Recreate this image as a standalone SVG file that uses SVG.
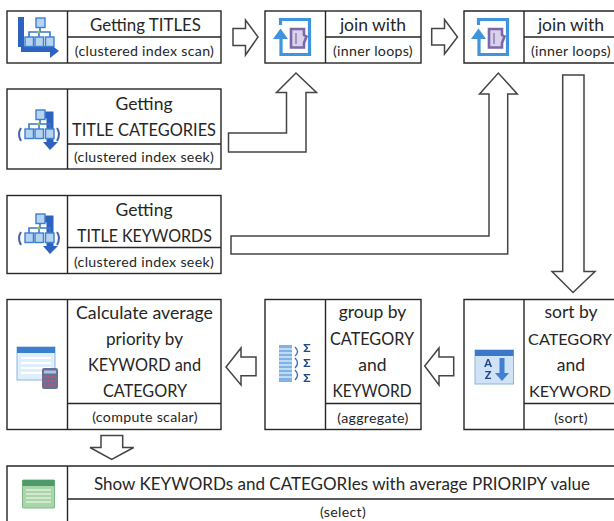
<svg xmlns="http://www.w3.org/2000/svg" width="614" height="521" viewBox="0 0 614 521">
<style>
text{font-family:"Lato","Carlito","Liberation Sans",sans-serif;fill:#262626;text-anchor:middle}
.t{font-size:17.5px}
.c{font-size:16.2px}
.s{font-size:14.2px;letter-spacing:.3px}
.box{fill:#fff;stroke:#262626;stroke-width:1.4}
.div{stroke:#262626;stroke-width:1.4;fill:none}
.arr{fill:#fff;stroke:#444;stroke-width:1.5;stroke-linejoin:miter}
.ib{fill:#b4d4f2;stroke:#3f7fcf;stroke-width:1.4}
.g{font-size:11px;font-weight:900;fill:#234a86}
.sg{font-size:12px;font-weight:900;fill:#234a86}
</style>
<defs>
<filter id="soft" x="-10%" y="-10%" width="120%" height="120%"><feGaussianBlur stdDeviation="0.45"/></filter>
<g id="tree">
<path d="M40 27V32M29 37V32H50V37M39 32V37" fill="none" stroke="#3a78c8" stroke-width="1.600"/>
<rect class="ib" x="36" y="18" width="9" height="9.500"/>
<rect class="ib" x="25" y="37" width="8.500" height="9.500"/>
<rect class="ib" x="35" y="37" width="8.500" height="9.500"/>
<rect class="ib" x="45.500" y="37" width="8.500" height="9.500"/>
<circle cx="38.500" cy="32" r="1.500" fill="#8cc63f"/>
</g>
<g id="seek">
<path d="M44 115H50V143" fill="none" stroke="#2f62c0" stroke-width="7"/>
<path d="M43 142H58L50 150Z" fill="#2f62c0"/>
<use href="#tree" y="92"/>
<path d="M21 128Q17 134 21 141M57 128Q61 134 57 141" fill="none" stroke="#4a5fa8" stroke-width="2"/>
</g>
<g id="join">
<path d="M280.500 25V19.500H309.500V54.500H281V38" fill="none" stroke="#3f94dc" stroke-width="3.200"/>
<path d="M273 39L280.500 28.500L288 39Z" fill="#3f94dc"/>
<path d="M291 29H304V35L306.500 36.500L304 43V47.500H291Z" fill="#d9d2ea" stroke="#7b68a8" stroke-width="2.600"/>
<path d="M296 33V44" stroke="#8d7cb8" stroke-width="1.500"/>
</g>
</defs>

<g id="connectors">
<path class="arr" d="M233 28.500H245.500V20L258 37L245.500 55V45.500H233Z"/>
<path class="arr" d="M431.700 28.500H444.500V19.500L457.500 37L444.500 54V45H431.700Z"/>
<path class="arr" d="M228.500 133H286.500V92.500H276.500L296 73L316.500 92.500H306V152H228.500Z"/>
<path class="arr" d="M231 236H489V94H479.500L498.300 73L517.300 94H507.700V254H231Z"/>
<path class="arr" d="M562.700 75H584V271.500H595L573 292.500L552 271.500H562.700Z"/>
<path class="arr" d="M453.700 357H439V348L424.700 366L439 385V375.700H453.700Z"/>
<path class="arr" d="M256 357H241V348L226 367L241 385V375.700H256Z"/>
<path class="arr" d="M101 435.500H122.700V447.500H133.700L111.700 459.300L90 447.500H101Z"/>
</g>

<g id="n-titles">
<rect class="box" x="7" y="11" width="214" height="52"/>
<path class="div" d="M67.500 11V63M67.500 37H221"/>
<g filter="url(#soft)">
<path d="M21 17V47M21 49H52" fill="none" stroke="#2f62c0" stroke-width="6"/>
<path d="M50 44L59 51L50 58Z" fill="#2f62c0"/>
<use href="#tree"/>
</g>
<text class="t" x="145.500" y="31" textLength="111" lengthAdjust="spacingAndGlyphs">Getting TITLES</text>
<text class="s" x="144.500" y="55.500">(clustered index scan)</text>
</g>

<g id="n-join1">
<rect class="box" x="265" y="11" width="156" height="52"/>
<path class="div" d="M325.500 11V63M325.500 37H421"/>
<use href="#join" filter="url(#soft)"/>
<text class="t" x="373" y="31">join with</text>
<text class="s" x="373" y="55.500">(inner loops)</text>
</g>

<g id="n-join2">
<path class="box" d="M615 11H464V63H615"/>
<path class="div" d="M524 11V63M524 37H615"/>
<use href="#join" x="198" filter="url(#soft)"/>
<text class="t" x="571" y="31">join with</text>
<text class="s" x="571" y="55.500">(inner loops)</text>
</g>

<g id="n-categories">
<rect class="box" x="7" y="89" width="214" height="80"/>
<path class="div" d="M67.500 89V169M67.500 144H221"/>
<use href="#seek" filter="url(#soft)"/>
<text class="t" x="144" y="110">Getting</text>
<text class="t" x="144" y="136" textLength="144" lengthAdjust="spacingAndGlyphs">TITLE CATEGORIES</text>
<text class="s" x="144" y="162">(clustered index seek)</text>
</g>

<g id="n-keywords">
<rect class="box" x="7" y="195.500" width="214" height="78"/>
<path class="div" d="M67.500 195.500V273.500M67.500 247.500H221"/>
<use href="#seek" y="104" filter="url(#soft)"/>
<text class="t" x="144" y="215.500">Getting</text>
<text class="t" x="144.500" y="241.500" textLength="135" lengthAdjust="spacingAndGlyphs">TITLE KEYWORDS</text>
<text class="s" x="144" y="267">(clustered index seek)</text>
</g>

<g id="n-compute">
<rect class="box" x="7" y="299.500" width="214" height="130"/>
<path class="div" d="M67.500 299.500V429.500M67.500 403.500H221"/>
<g filter="url(#soft)">
<rect x="17" y="347" width="38" height="33" fill="#dfeefb" stroke="#8fb4dc"/>
<rect x="17" y="347" width="38" height="6" fill="#3a80cf"/>
<path d="M21 358H51M21 363H51M21 368H51M21 373H51" stroke="#fff" stroke-width="2"/>
<rect x="42" y="368" width="16" height="21" rx="2" fill="#6b6f95"/>
<path d="M44 372H56" stroke="#a9c4e6" stroke-width="3"/>
<path d="M44 377H56M44 381H56M44 385H56" stroke="#c9506a" stroke-width="2" stroke-dasharray="2 1.500"/>
</g>
<text class="t" x="144.500" y="319" textLength="137" lengthAdjust="spacingAndGlyphs">Calculate average</text>
<text class="t" x="144.500" y="345" textLength="77" lengthAdjust="spacingAndGlyphs">priority by</text>
<text class="t" x="144.500" y="371" textLength="113" lengthAdjust="spacingAndGlyphs">KEYWORD and</text>
<text class="t" x="145" y="397" textLength="84" lengthAdjust="spacingAndGlyphs">CATEGORY</text>
<text class="s" x="145" y="422">(compute scalar)</text>
</g>

<g id="n-aggregate">
<rect class="box" x="265" y="299.500" width="156" height="130"/>
<path class="div" d="M325.500 299.500V429.500M325.500 403.500H421"/>
<g filter="url(#soft)">
<rect x="279" y="345" width="13" height="37" fill="#7fb2e6"/>
<path d="M279 349H292M279 353H292M279 357H292M279 361H292M279 365H292M279 369H292M279 373H292M279 377H292" stroke="#d5e7f8" stroke-width="1.500"/>
<path d="M295 347Q300 352 295 356M295 358Q300 363 295 368M295 370Q300 375 295 380" fill="none" stroke="#3a6fb8" stroke-width="1.400"/>
<text class="sg" x="307" y="352">Σ</text>
<text class="sg" x="307" y="367">Σ</text>
<text class="sg" x="307" y="382">Σ</text>
</g>
<text class="t" x="372.500" y="318">group by</text>
<text class="t" x="372" y="345" textLength="84" lengthAdjust="spacingAndGlyphs">CATEGORY</text>
<text class="t" x="372.500" y="371">and</text>
<text class="t" x="372" y="397" textLength="79" lengthAdjust="spacingAndGlyphs">KEYWORD</text>
<text class="s" x="373" y="422.500">(aggregate)</text>
</g>

<g id="n-sort">
<path class="box" d="M615 299.500H464V429.500H615"/>
<path class="div" d="M524 299.500V429.500M524 403.500H615"/>
<g filter="url(#soft)">
<rect x="475" y="350" width="38.500" height="34" fill="#cfe2f6" stroke="#8fb4dc"/>
<rect x="475" y="350" width="38.500" height="6" fill="#3a78c8"/>
<path d="M502 358V374" stroke="#3f80d0" stroke-width="5"/>
<path d="M495 373H509L502 381Z" fill="#3f80d0"/>
<text class="g" x="488" y="367">A</text>
<text class="g" x="488" y="379">Z</text>
</g>
<text class="t" x="571" y="318">sort by</text>
<text class="c" x="570" y="345">CATEGORY</text>
<text class="t" x="571" y="371">and</text>
<text class="c" x="570" y="397">KEYWORD</text>
<text class="s" x="571" y="422.500">(sort)</text>
</g>

<g id="n-select">
<path class="box" d="M615 466H7V522H615"/>
<path class="div" d="M67.500 466V522M67.500 499H615"/>
<g filter="url(#soft)">
<rect x="22.500" y="480" width="32" height="28" rx="1" fill="#a8d6a8" stroke="#7fb58a"/>
<rect x="22.500" y="480" width="32" height="6" fill="#4e9a6b"/>
<path d="M26 490H51M26 494H51M26 498H51M26 502H51" stroke="#dff0dc" stroke-width="1.500"/>
</g>
<text class="t" x="342" y="489.500" textLength="496" lengthAdjust="spacingAndGlyphs">Show KEYWORDs and CATEGORIes with average PRIORIPY value</text>
<text class="s" x="343" y="516.500">(select)</text>
</g>
</svg>
